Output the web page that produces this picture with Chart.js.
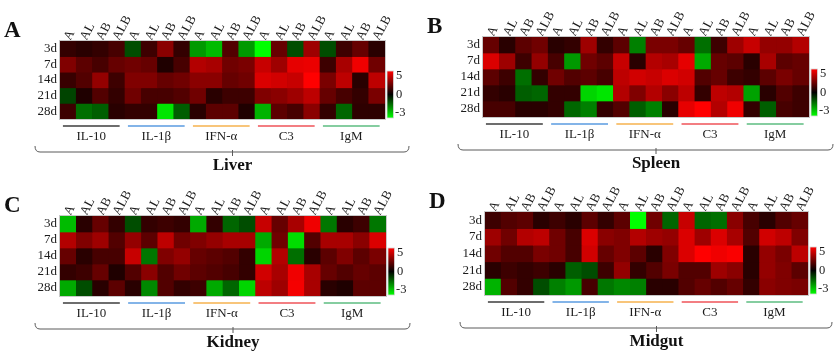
<!DOCTYPE html>
<html>
<head>
<meta charset="utf-8">
<script src="https://cdn.jsdelivr.net/npm/chart.js@4"></script>
<style>
  html,body{margin:0;padding:0;background:#fff;}
  #wrap{position:relative;width:838px;height:357px;background:#fff;overflow:hidden;}
  #wrap canvas{position:absolute;left:0;top:0;}
</style>
</head>
<body>
<div id="wrap">
  <canvas id="cA" width="838" height="357"></canvas>
  <canvas id="cB" width="838" height="357"></canvas>
  <canvas id="cC" width="838" height="357"></canvas>
  <canvas id="cD" width="838" height="357"></canvas>
</div>
<script>
// ---------- data ----------
const rowLabels = ['3d', '7d', '14d', '21d', '28d'];
const treatments = ['A', 'AL', 'AB', 'ALB'];
const genes = ['IL-10', 'IL-1β', 'IFN-α', 'C3', 'IgM'];
const columnLabels = genes.flatMap(() => treatments);
const colorbarTicks = ['5', '0', '-3'];
const panelLetters = ['A', 'B', 'C', 'D'];
const tissueNames = ['Liver', 'Spleen', 'Kidney', 'Midgut'];

const liverValues = [
  [1.0, 0.8, 1.0, 1.4, -0.9, 1.2, 2.7, 1.0, -1.8, -2.2, 1.6, -1.8, -3.0, 2.0, -0.9, 3.1, -0.9, 1.2, 2.0, 0.8],
  [2.5, 1.8, 1.4, 2.0, 2.2, 2.0, 0.6, 1.4, 3.5, 3.3, 2.2, 2.4, 3.9, 3.1, 4.5, 4.6, 1.2, 3.3, 4.7, 2.2],
  [1.1, 1.6, 2.9, 1.2, 2.5, 2.5, 2.0, 2.2, 2.7, 2.7, 2.0, 2.2, 4.3, 4.1, 3.9, 5.0, 2.4, 3.7, 0.8, 3.7],
  [-0.8, 0.6, 1.6, 1.0, 2.2, 1.4, 1.4, 1.6, 2.2, 0.8, 1.2, 1.2, 2.5, 2.7, 3.1, 3.7, 2.0, 1.4, 1.0, 2.4],
  [1.2, -1.3, -1.1, 0.8, 1.0, 1.0, -2.7, -1.1, 0.8, 1.8, 1.8, 0.6, -2.1, 1.8, 1.4, 2.7, 1.0, -1.2, 0.9, 0.9]
];
const spleenValues = [
  [2.0, 0.8, 1.8, 2.2, 0.8, 1.0, 3.1, 1.0, 1.8, -1.5, 2.4, 2.4, 2.0, -1.3, 1.2, 3.1, 3.9, 2.9, 2.9, 3.5],
  [4.3, 3.1, 1.2, 2.9, 1.4, -1.8, 2.2, 1.8, 3.9, 0.8, 3.5, 3.3, 4.5, -2.0, 2.0, 1.8, 0.8, 3.3, 1.8, 2.0],
  [1.8, 1.2, -1.3, 1.0, 2.2, 1.6, 1.8, 1.4, 3.7, 4.1, 3.9, 4.3, 4.1, 1.6, 2.0, 1.2, 1.0, 1.8, 2.4, 2.0],
  [1.0, 0.8, -1.1, -1.2, 1.0, 1.0, -2.5, -2.7, 3.5, 2.5, 3.5, 2.7, 3.7, 1.0, 3.7, 3.5, -1.9, 0.8, 1.6, 1.2],
  [1.4, 1.4, 0.8, 0.8, 1.0, -1.2, -1.5, 1.0, 1.6, -1.1, -1.5, 0.8, 4.5, 5.0, 3.5, 4.7, 1.0, -1.1, 1.4, 1.2]
];
const kidneyValues = [
  [-2.2, 0.8, 2.0, 1.0, -0.9, 1.0, 1.2, 1.0, -2.0, 1.0, -1.2, -0.9, 3.9, 2.0, 3.3, 4.7, -1.4, 0.8, 1.2, -1.4],
  [3.5, 2.5, 3.1, 1.6, 2.9, 1.8, 3.7, 2.2, 2.5, 2.9, 3.3, 3.3, -2.0, 2.2, -2.6, 1.6, 3.3, 3.3, 2.7, 4.3],
  [2.0, 0.8, 1.4, 1.4, 3.9, -1.4, 2.5, 2.9, 2.0, 1.8, 1.6, 1.0, -2.5, 3.5, -1.3, 0.8, 1.8, 2.5, 1.8, 2.4],
  [1.0, 1.2, 2.0, 0.6, 1.6, 2.7, 1.6, 2.2, 1.8, 1.6, 1.4, 1.0, 4.1, 3.3, 4.7, 3.3, 2.0, 1.6, 2.0, 1.8],
  [-2.0, -0.9, 0.8, 1.8, 0.8, -1.6, 1.6, 1.0, 1.2, -2.0, -1.2, -2.5, 3.7, 3.1, 4.8, 3.3, 0.8, 0.6, 1.8, 1.8]
];
const midgutValues = [
  [1.2, 1.6, 1.8, 0.8, 1.2, 0.8, 1.8, 1.0, 1.8, -3.0, 2.2, -1.2, 3.9, -1.2, -1.3, 2.7, 1.4, 0.8, 1.6, 2.0],
  [3.1, 2.2, 3.5, 3.7, 2.2, 1.4, 4.3, 2.7, 2.5, 3.5, 3.1, 2.9, 4.3, 3.1, 4.3, 3.3, 1.6, 4.1, 3.7, 2.5],
  [2.2, 1.6, 1.6, 2.4, 2.2, 1.4, 4.1, 2.0, 2.5, 1.8, 0.8, 2.5, 4.3, 5.0, 4.7, 4.9, 0.8, 2.9, 2.4, 3.7],
  [0.8, 1.2, 1.0, 1.2, 0.8, -1.1, -0.9, 1.2, 2.9, 1.0, 1.6, 2.4, 1.6, 1.6, 3.1, 2.7, 0.8, 2.9, 2.5, 1.8],
  [-2.1, 1.6, 1.0, -0.9, -1.5, -1.8, 1.4, -1.4, -1.6, -1.5, 0.8, 0.8, 1.6, 2.0, 1.6, 2.0, 1.0, 2.7, 2.5, 2.4]
];

// ---------- styles / layout ----------
const geneLineColors = ['#3c3c3c', '#5a9be0', '#f6b24e', '#ef5358', '#5cbd80'];
const SERIF = '"Liberation Serif", "Times New Roman", serif';
const TEXT = '#1c1c1c';
const W = 838, H = 357;
const layouts = [
  { canvas: 'cA', left: 60, top: 41, right: 385, bottom: 119 },
  { canvas: 'cB', left: 483, top: 37, right: 809, bottom: 117 },
  { canvas: 'cC', left: 60, top: 216, right: 386, bottom: 296 },
  { canvas: 'cD', left: 485, top: 212, right: 808, bottom: 295 }
];
const panelValues = [liverValues, spleenValues, kidneyValues, midgutValues];

function heatColor(v) {
  if (v >= 0) {
    const t = Math.min(v / 5, 1);
    return 'rgb(' + Math.round(255 * t) + ',0,0)';
  }
  const t = Math.min(-v / 3, 1);
  return 'rgb(0,' + Math.round(255 * t) + ',0)';
}

const decorPlugin = {
  id: 'decor',
  beforeDatasetsDraw(chart) {
    const a = chart.chartArea, ctx = chart.ctx;
    ctx.save();
    ctx.fillStyle = '#200000';
    ctx.fillRect(a.left, a.top, a.right - a.left, a.bottom - a.top);
    ctx.restore();
  },
  afterDraw(chart) {
    const o = chart.options.plugins.decor;
    const a = chart.chartArea, ctx = chart.ctx, xs = chart.scales.x;
    const cw = (a.right - a.left) / columnLabels.length;
    ctx.save();
    // heatmap frame
    ctx.strokeStyle = '#c8c8c8';
    ctx.lineWidth = 1;
    ctx.strokeRect(a.left - 0.5, a.top - 0.5, a.right - a.left + 1, a.bottom - a.top + 1);

    // gene group lines and labels
    genes.forEach((g, gi) => {
      const first = gi * treatments.length, last = first + treatments.length - 1;
      const x0 = xs.getPixelForValue(first) - cw / 2 + cw * 0.18;
      const x1 = xs.getPixelForValue(last) + cw / 2 - cw * 0.33;
      const ly = a.bottom + 7;
      ctx.strokeStyle = geneLineColors[gi];
      ctx.lineWidth = 1.6;
      ctx.beginPath(); ctx.moveTo(x0, ly); ctx.lineTo(x1, ly); ctx.stroke();
      ctx.fillStyle = TEXT;
      ctx.font = '13px ' + SERIF;
      ctx.textAlign = 'center';
      ctx.textBaseline = 'middle';
      ctx.fillText(g, (x0 + x1) / 2, a.bottom + 18);
    });

    // brace
    const by = a.bottom + 33;
    const bx0 = a.left - 25, bx1 = a.right + 24;
    const cx = (a.left + a.right) / 2 + 10;
    ctx.strokeStyle = '#5a5a5a';
    ctx.lineWidth = 1;
    ctx.beginPath();
    ctx.moveTo(bx0, by - 6);
    ctx.quadraticCurveTo(bx0, by, bx0 + 5, by);
    ctx.lineTo(bx1 - 5, by);
    ctx.quadraticCurveTo(bx1, by, bx1, by - 6);
    ctx.stroke();
    ctx.beginPath(); ctx.moveTo(cx, by - 2); ctx.lineTo(cx, by + 4); ctx.stroke();

    // tissue title
    ctx.fillStyle = '#111';
    ctx.font = 'bold 17px ' + SERIF;
    ctx.textAlign = 'center';
    ctx.textBaseline = 'middle';
    ctx.fillText(o.title, cx, a.bottom + 47);

    // panel letter
    ctx.font = 'bold 23px ' + SERIF;
    ctx.textAlign = 'left';
    ctx.textBaseline = 'alphabetic';
    ctx.fillText(o.letter, a.left - 56, a.top - 4);

    // colour bar
    const cbx = a.right + 2, cbw = 6.5, cbTop = a.bottom - 48, cbBot = a.bottom - 1;
    const grad = ctx.createLinearGradient(0, cbTop, 0, cbBot);
    grad.addColorStop(0, heatColor(5));
    grad.addColorStop(0.5, heatColor(0));
    grad.addColorStop(1, heatColor(-3));
    ctx.fillStyle = grad;
    ctx.fillRect(cbx, cbTop, cbw, cbBot - cbTop);
    ctx.strokeStyle = '#d8d8d8';
    ctx.lineWidth = 0.8;
    ctx.strokeRect(cbx, cbTop, cbw, cbBot - cbTop);
    ctx.fillStyle = TEXT;
    ctx.font = '12.5px ' + SERIF;
    ctx.textAlign = 'left';
    ctx.textBaseline = 'middle';
    const tickOffsets = [5, 24, 42];
    colorbarTicks.forEach((t, i) => {
      ctx.fillText(t, cbx + cbw + (t.length > 1 ? 1.5 : 2.5), cbTop + tickOffsets[i]);
    });
    ctx.restore();
  }
};

function makePanel(pi) {
  const L = layouts[pi];
  const values = panelValues[pi];
  return new Chart(document.getElementById(L.canvas), {
    type: 'bar',
    data: {
      labels: columnLabels,
      datasets: rowLabels.map((row, r) => ({
        label: row,
        data: values[r].map(() => [r, r + 1]),
        backgroundColor: values[r].map(heatColor),
        borderWidth: 0,
        barPercentage: 1,
        categoryPercentage: 1,
        xAxisID: 'x',
        yAxisID: 'y'
      }))
    },
    options: {
      responsive: false,
      animation: false,
      events: [],
      layout: { padding: { left: 0, top: 0, right: W - L.right, bottom: H - L.bottom } },
      plugins: {
        legend: { display: false },
        tooltip: { enabled: false },
        decor: { title: tissueNames[pi], letter: panelLetters[pi] }
      },
      scales: {
        x: {
          type: 'category',
          position: 'top',
          stacked: true,
          offset: true,
          grid: { display: false, drawTicks: false },
          border: { display: false },
          ticks: {
            autoSkip: false,
            minRotation: 62,
            maxRotation: 62,
            padding: -2,
            labelOffset: 13,
            color: TEXT,
            font: { family: SERIF, size: 13 }
          },
          afterFit: s => { s.height = L.top; }
        },
        y: { type: 'linear', display: false, stacked: false, min: 0, max: rowLabels.length, reverse: true },
        yl: {
          type: 'category',
          labels: rowLabels,
          offset: true,
          position: 'left',
          grid: { display: false, drawTicks: false },
          border: { display: false },
          ticks: { autoSkip: false, padding: 3, color: TEXT, font: { family: SERIF, size: 13 } },
          afterFit: s => { s.width = L.left; }
        }
      }
    },
    plugins: [decorPlugin]
  });
}

[0, 1, 2, 3].forEach(makePanel);
</script>
</body>
</html>
